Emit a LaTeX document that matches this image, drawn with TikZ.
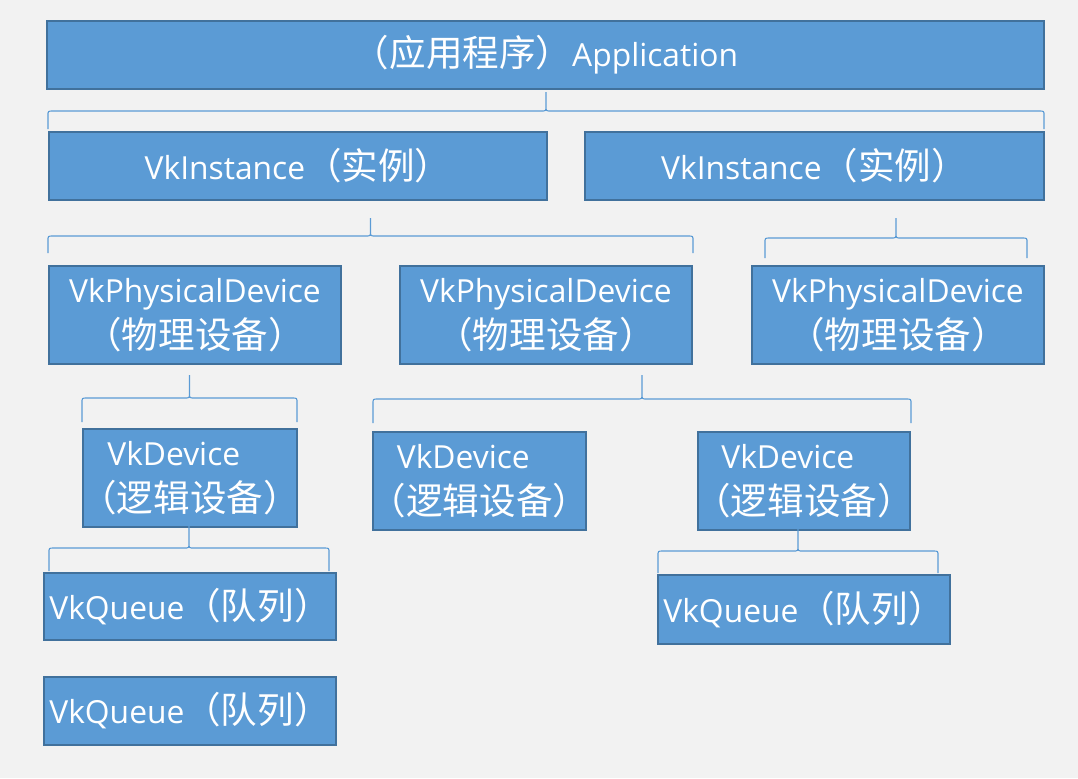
\documentclass[tikz,border=0pt]{standalone}
\usepackage{fontspec}
\setmainfont{Open Sans}
\newfontfamily\cjk{Noto Sans CJK SC}[Scale=1.15]
\newcommand{\zh}[1]{{\cjk #1}}
\usetikzlibrary{calc}

\begin{document}
\begin{tikzpicture}[x=0.025cm,y=-0.025cm,
    vkbox/.style={shape=rectangle,draw=vk_boxline,fill=vk_boxfill,line width=1.4pt,text=white,inner sep=0pt,align=center,font=\fontsize{22.6}{32.5}\selectfont},
    brace/.style 2 args={draw=vk_brace,line width=0.8pt,to path={
        let \p1=(\tikztostart), \p2=(\tikztotarget), \n1={0.5*(\x1+\x2)}, \n2={\y1+#1*0.7113pt}, \n3={\n2+#2*0.7113pt} in
        -- (\x1,{\n2-3.5pt}) .. controls (\x1,\n2) .. ({\x1+3.5pt},\n2)
        -- ({\n1-3.5pt},\n2) .. controls (\n1,\n2) .. (\n1,{\n2+3.5pt})
        -- (\n1,\n3) -- (\n1,{\n2+3.5pt}) .. controls (\n1,\n2) .. ({\n1+3.5pt},\n2)
        -- ({\x2-3.5pt},\n2) .. controls (\x2,\n2) .. (\x2,{\n2-3.5pt}) -- (\p2)}}]
    \definecolor{vk_bg}{RGB}{242,242,242}
    \definecolor{vk_boxfill}{RGB}{91,155,213}
    \definecolor{vk_boxline}{RGB}{65,113,156}
    \definecolor{vk_brace}{RGB}{91,155,213}
    \fill[vk_bg] (0,0) rectangle (1078,778);
    \useasboundingbox (0,0) rectangle (1078,778);
    % application and instances
    \node[vkbox,minimum width=24.925cm,minimum height=1.7cm] (app) at (545.5,55) {\zh{（应用程序）}Application};
    \node[vkbox,minimum width=12.45cm,minimum height=1.7cm] (inst1) at (298,166) {VkInstance\zh{（实例）}};
    \node[vkbox,minimum width=11.475cm,minimum height=1.7cm] (inst2) at (814.5,166) {VkInstance\zh{（实例）}};
    % physical devices
    \node[vkbox,minimum width=7.3cm,minimum height=2.45cm] (phys1) at (195,315) {VkPhysicalDevice\\\zh{（物理设备）}};
    \node[vkbox,minimum width=7.3cm,minimum height=2.45cm] (phys2) at (546,315) {VkPhysicalDevice\\\zh{（物理设备）}};
    \node[vkbox,minimum width=7.3cm,minimum height=2.45cm] (phys3) at (898,315) {VkPhysicalDevice\\\zh{（物理设备）}};
    % logical devices
    \node[vkbox,align=left,inner xsep=-4pt,minimum width=5.35cm,minimum height=2.45cm] (dev1) at (190,478) {\hspace*{0.85em}VkDevice\\\zh{（逻辑设备）}};
    \node[vkbox,align=left,inner xsep=-4pt,minimum width=5.325cm,minimum height=2.45cm] (dev2) at (479.5,481) {\hspace*{0.85em}VkDevice\\\zh{（逻辑设备）}};
    \node[vkbox,align=left,inner xsep=-4pt,minimum width=5.3cm,minimum height=2.45cm] (dev3) at (804,481) {\hspace*{0.85em}VkDevice\\\zh{（逻辑设备）}};
    % queues
    \node[vkbox,minimum width=7.3cm,minimum height=1.675cm] (queue1) at (190,606.5) {VkQueue\zh{（队列）}};
    \node[vkbox,minimum width=7.3cm,minimum height=1.7cm] (queue2) at (190,711) {VkQueue\zh{（队列）}};
    \node[vkbox,minimum width=7.3cm,minimum height=1.725cm] (queue3) at (804,609.5) {VkQueue\zh{（队列）}};
    % braces
    \draw[brace={18}{19}] ($(inst1.north west)+(0,-2)$) to ($(inst2.north east)+(-1,-2)$);
    \draw[brace={17}{18}] ($(phys1.north west)+(0,-12)$) to ($(phys2.north east)+(0,-12)$);
    \draw[brace={20}{20}] ($(phys3.north west)+(14,-7)$) to ($(phys3.north east)+(-18,-7)$);
    \draw[brace={24}{23}] ($(dev1.north west)+(0,-6)$) to ($(dev1.north east)+(-1,-6)$);
    \draw[brace={24}{24}] ($(dev2.north west)+(1,-8)$) to ($(dev3.north east)+(0,-8)$);
    \draw[brace={23}{22}] ($(queue1.north west)+(6,-1)$) to ($(queue1.north east)+(-8,-1)$);
    \draw[brace={22}{23}] ($(queue3.north west)+(1,-1)$) to ($(queue3.north east)+(-13,-1)$);
\end{tikzpicture}
\end{document}
